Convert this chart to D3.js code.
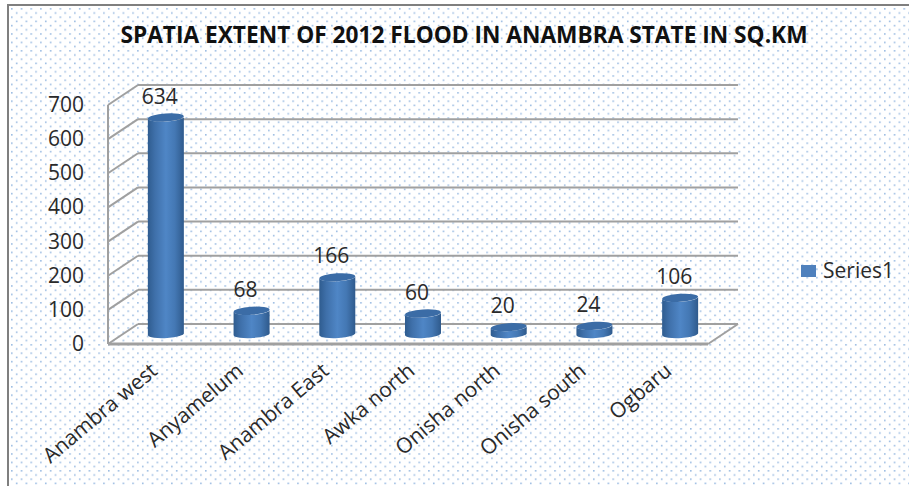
<!DOCTYPE html>
<html><head><meta charset="utf-8">
<script src="https://cdn.jsdelivr.net/npm/d3@7/dist/d3.min.js"></script>
<style>html,body{margin:0;padding:0;background:#fff;overflow:hidden}svg{display:block}text{font-family:"Open Sans","Noto Sans",sans-serif;fill:#2a2a2a}</style>
</head><body><svg id="c" width="909" height="486"></svg>
<script>
const categories=["Anambra west","Anyamelum","Anambra East","Awka north","Onisha north","Onisha south","Ogbaru"];
const values=[634,68,166,60,20,24,106];
const yTicks=[0,100,200,300,400,500,600,700];
const titleText="SPATIA EXTENT OF 2012 FLOOD IN ANAMBRA STATE IN SQ.KM";
const seriesName="Series1";

const svg=d3.select("#c");
const defs=svg.append("defs");
const pat=defs.append("pattern").attr("id","dots").attr("x",11).attr("y",8).attr("width",9.7).attr("height",8.4).attr("patternUnits","userSpaceOnUse");
pat.append("rect").attr("width",9.7).attr("height",8.4).attr("fill","#fff");
pat.append("rect").attr("x",0).attr("y",0).attr("width",1.6).attr("height",1.6).attr("fill","#9dbde3");
pat.append("rect").attr("x",4.85).attr("y",4.2).attr("width",1.6).attr("height",1.6).attr("fill","#9dbde3");
const grad=defs.append("linearGradient").attr("id","cyl").attr("x1",0).attr("x2",1).attr("y1",0).attr("y2",0);
[[0,"#2f5c8f"],[.2,"#3f70aa"],[.5,"#4f86c6"],[.75,"#4478b4"],[1,"#2f5a8c"]].forEach(d=>grad.append("stop").attr("offset",d[0]).attr("stop-color",d[1]));

svg.append("rect").attr("x",8).attr("y",5).attr("width",920).attr("height",500).attr("fill","url(#dots)").attr("stroke","#7f7f7f").attr("stroke-width",2);

const x=d3.scaleBand().domain(categories).range([108,708]);
const y=d3.scaleLinear().domain([0,700]).range([344,105]);
const dx=30,dy=-20;
const gridColor="#a0a0a0";
const g=svg.append("g");

g.selectAll("line.back").data(yTicks).enter().append("line")
 .attr("x1",108+dx).attr("x2",708+dx).attr("y1",d=>y(d)+dy).attr("y2",d=>y(d)+dy)
 .attr("stroke",gridColor).attr("stroke-width",2);
g.selectAll("line.side").data(yTicks).enter().append("line")
 .attr("x1",108).attr("x2",108+dx).attr("y1",d=>y(d)).attr("y2",d=>y(d)+dy)
 .attr("stroke",gridColor).attr("stroke-width",2);
g.append("line").attr("x1",108).attr("x2",108).attr("y1",y(0)).attr("y2",y(700)).attr("stroke",gridColor).attr("stroke-width",2);
g.append("line").attr("x1",108).attr("x2",708).attr("y1",y(0)).attr("y2",y(0)).attr("stroke",gridColor).attr("stroke-width",3);
g.append("line").attr("x1",708).attr("x2",708+dx).attr("y1",y(0)).attr("y2",y(0)+dy).attr("stroke",gridColor).attr("stroke-width",2);

svg.selectAll("text.yl").data(yTicks).enter().append("text")
 .attr("x",84).attr("y",d=>y(d)+7).attr("text-anchor","end").attr("font-size",21).text(d=>d);

const bw=36,ry=4,tilt=1.2,base=y(0)-10;
const h=v=>y(0)-y(v);
const bars=g.selectAll("g.bar").data(categories.map((c,i)=>({c,v:values[i]}))).enter().append("g");
const cx=d=>x(d.c)+x.bandwidth()/2+15;
bars.append("path").attr("fill","url(#cyl)").attr("d",d=>{
  const l=cx(d)-bw/2,r=cx(d)+bw/2,t=base-h(d.v);
  return `M${l},${t+tilt}L${l},${base+tilt}A${bw/2},${ry} -3 0 0 ${r},${base-tilt}L${r},${t-tilt}A${bw/2},${ry} -3 0 1 ${l},${t+tilt}Z`;
});
bars.append("ellipse").attr("rx",bw/2).attr("ry",ry)
 .attr("transform",d=>`translate(${cx(d)},${base-h(d.v)}) rotate(-3.8)`).attr("fill","#3b6ca6");
bars.append("text").attr("x",d=>cx(d)-6).attr("y",d=>base-h(d.v)-14).attr("text-anchor","middle").attr("font-size",21).text(d=>d.v);

svg.selectAll("text.cat").data(categories).enter().append("text")
 .attr("text-anchor","end").attr("font-size",21)
 .attr("transform",d=>`translate(${x(d)+x.bandwidth()/2+8},373) rotate(-40)`)
 .text(d=>d);

svg.append("text").attr("x",464).attr("y",43).attr("text-anchor","middle").attr("font-size",22.7).attr("font-weight",700).attr("style","fill:#111").text(titleText);
svg.append("rect").attr("x",801).attr("y",265).attr("width",15).attr("height",12).attr("fill","#4f81bd");
svg.append("text").attr("x",823).attr("y",278).attr("font-size",21).text(seriesName);
</script></body></html>
